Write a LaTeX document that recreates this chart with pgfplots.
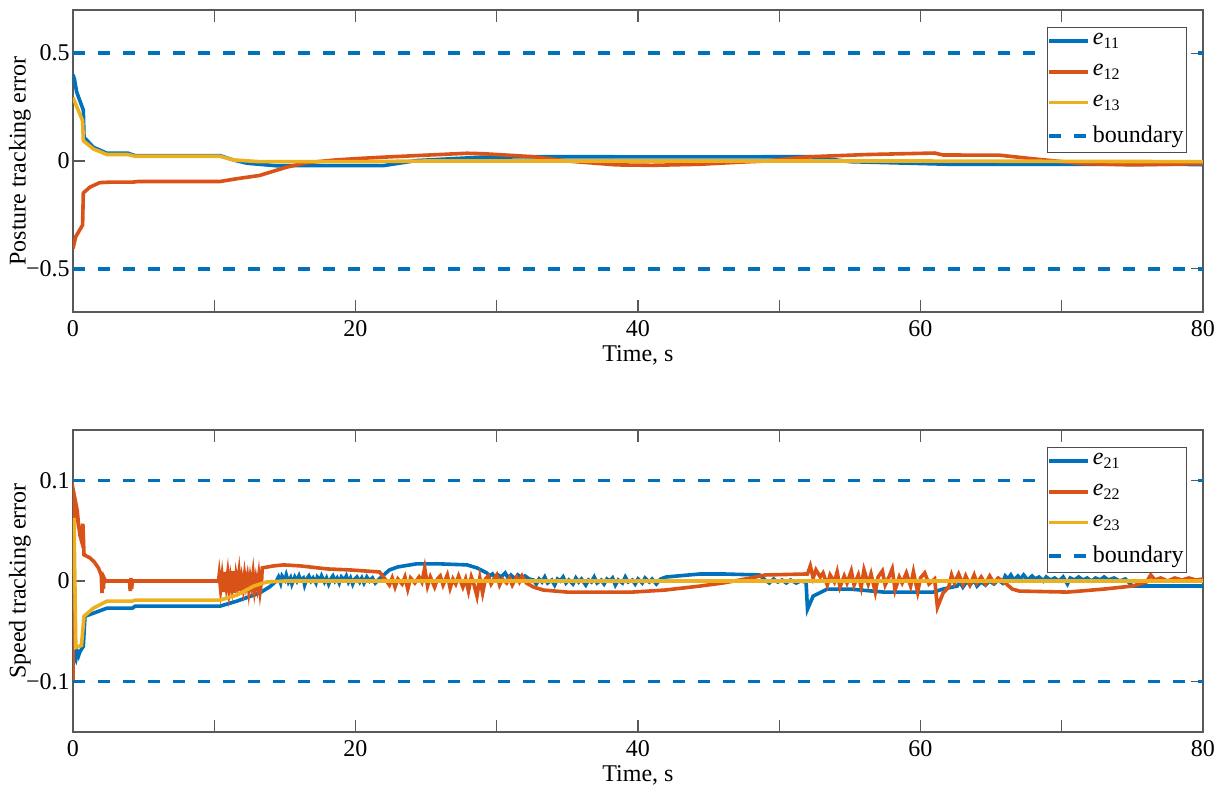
\documentclass[border=0pt,12pt]{standalone}
\usepackage{pgfplots}
\pgfplotsset{compat=1.18}
\usepackage{pgfplotstable}
\usepackage{fontspec}
\setmainfont{Liberation Serif}
\definecolor{mblue}{rgb}{0,0.447,0.741}
\definecolor{morange}{rgb}{0.85,0.325,0.098}
\definecolor{myellow}{rgb}{0.929,0.694,0.125}

% ---------- Posture tracking errors ----------
\pgfplotstableread{
x y
0 0.40
0.1 0.38
0.26 0.32
0.73 0.236
0.78 0.11
1.44 0.064
2.4 0.036
3.9 0.036
4.4 0.025
10.4 0.025
11.35 0.005
12.3 -0.01
14.4 -0.022
16.1 -0.021
22 -0.021
24.3 0.002
29 0.018
33.8 0.02
44.4 0.019
52.2 0.02
55 -0.003
62 -0.015
70.4 -0.015
80 -0.016
}\eA
\pgfplotstableread{
x y
0 -0.405
0.2 -0.35
0.68 -0.297
0.73 -0.148
1.2 -0.121
1.9 -0.1
2.6 -0.098
4.2 -0.098
4.6 -0.095
10.4 -0.095
11.6 -0.082
13.2 -0.067
15.1 -0.029
16.5 -0.008
18.6 0.005
20.3 0.012
22 0.018
27.9 0.036
29 0.034
32.6 0.02
35 0.0
38.5 -0.018
41 -0.02
44.4 -0.015
47 -0.006
49 0
52.2 0.02
56.2 0.03
61 0.037
61.6 0.028
65.6 0.027
68 0.01
71.5 -0.012
75 -0.018
80 -0.012
}\eB
\pgfplotstableread{
x y
0 0.294
0.68 0.187
0.73 0.094
1.44 0.056
2.4 0.03
3.9 0.03
4.4 0.022
10.4 0.022
11.35 0.005
13.2 -0.003
20 -0.003
25 0
60 0
80 -0.003
}\eC

% ---------- Speed tracking errors ----------
\pgfplotstableread{
x y
0 -0.06
0.1 -0.075
0.2 -0.078
0.3 -0.07
0.4 -0.074
0.5 -0.07
0.73 -0.065
0.85 -0.035
1.44 -0.032
2.4 -0.027
4.2 -0.027
4.4 -0.025
10.4 -0.025
11.6 -0.02
13.2 -0.012
13.9 -0.006
14.4 0.0
14.55 0.004
14.7 -0.002
14.8 0.005
15.0 0.001
15.1 0.006
15.25 -0.001
15.4 0.003
15.5 -0.003
15.7 0.004
15.85 0.0
16.0 0.005
16.1 0.001
16.3 0.003
16.4 -0.004
16.55 0.002
16.7 0.005
16.85 0.0
17.0 0.003
17.2 -0.002
17.3 0.004
17.5 0.001
17.6 0.005
17.8 -0.001
17.95 0.003
18.1 -0.003
18.25 0.002
18.4 0.005
18.55 0.0
18.7 0.003
18.85 -0.002
19.0 0.004
19.2 0.001
19.35 0.005
19.5 -0.001
19.65 0.003
19.8 -0.003
19.95 0.002
20.1 0.004
20.3 -0.001
20.45 0.003
20.6 -0.002
20.8 0.004
21.0 0.0
21.2 0.003
21.4 -0.002
21.6 0.001
22.4 0.011
23 0.014
24.3 0.017
26 0.017
27.9 0.016
28.6 0.013
29.3 0.008
29.5 0.005
29.7 0.007
29.9 0.003
30.1 0.006
30.3 0.004
30.6 0.008
30.8 0.003
31.0 0.006
31.3 0.002
31.5 0.006
31.8 0.003
32.0 0.005
32.3 0.002
32.6 0.001
32.8 -0.003
33.0 0.002
33.2 -0.001
33.4 0.004
33.6 -0.002
33.9 0.001
34.1 -0.004
34.3 0.002
34.5 0.0
34.7 0.004
34.9 -0.002
35.1 0.001
35.4 -0.003
35.6 0.003
35.8 -0.001
36.0 0.002
36.3 -0.004
36.5 0.001
36.7 -0.001
36.9 0.004
37.1 -0.002
37.4 0.001
37.6 -0.003
37.8 0.002
38.0 0.0
38.2 0.003
38.4 -0.004
38.6 0.001
38.9 -0.002
39.1 0.004
39.3 -0.001
39.6 0.001
39.8 -0.003
40.0 0.002
40.3 -0.002
40.5 0.003
40.8 -0.001
41.0 0.002
41.3 -0.003
41.6 0.002
42 0.004
44.4 0.007
46 0.007
48.6 0.006
49 0.001
49.3 -0.002
49.6 0.002
49.9 -0.001
50.2 0.001
50.5 -0.002
50.8 0.001
51.2 -0.002
51.5 0.0
51.9 -0.001
52.0 -0.028
52.4 -0.015
53.4 -0.008
55 -0.008
57.4 -0.011
60.9 -0.011
61.6 -0.008
62.6 -0.005
62.8 -0.001
63.0 -0.006
63.3 0.0
63.5 -0.004
63.8 0.001
64.0 -0.005
64.3 -0.001
64.6 -0.004
64.9 0.0
65.2 -0.003
65.5 0.001
65.8 -0.002
66.0 0.005
66.2 0.002
66.4 0.006
66.6 0.001
66.9 0.005
67.1 0.002
67.3 0.006
67.6 0.001
67.9 0.005
68.1 0.002
68.4 0.004
68.7 0.0
68.9 0.004
69.2 0.001
69.5 0.003
69.8 0.0
70.1 0.004
70.4 -0.003
70.6 0.003
70.9 0.001
71.2 0.004
71.5 0.001
71.8 0.003
72.1 0.0
72.4 0.003
72.7 0.001
73.0 0.004
73.3 0.001
73.7 0.003
74.1 0.0
74.5 0.002
75 -0.005
80 -0.005
}\sA
\pgfplotstableread{
x y
0 -0.101
0.05 0.02
0.12 0.083
0.3 0.07
0.4 0.055
0.5 0.045
0.6 0.04
0.7 0.057
0.78 0.026
1.2 0.023
1.5 0.019
1.8 0.013
2.0 0.006
2.05 -0.012
2.1 0.004
2.15 -0.008
2.2 0.003
2.3 0
4.0 0
4.05 -0.01
4.1 0.003
4.15 -0.008
4.2 0
10.3 0
10.35 0.006
10.45 -0.008
10.55 0.004
10.65 -0.011
10.75 0.009
10.85 -0.004
10.95 0.007
11.05 -0.009
11.15 0.003
11.25 -0.006
11.35 0.01
11.45 -0.012
11.55 0.005
11.65 -0.003
11.75 0.008
11.85 -0.01
11.95 0.002
12.05 -0.007
12.15 0.006
12.25 -0.004
12.35 0.004
12.45 -0.009
12.55 0.003
12.65 -0.005
12.75 0.007
12.85 -0.008
12.95 0.002
13.05 -0.006
13.15 0.005
13.25 -0.01
13.35 0.0
13.4 0.013
14.2 0.015
14.9 0.016
16.1 0.015
18 0.012
19.6 0.011
21.7 0.009
22.2 0.0
22.4 -0.004
22.6 0.003
22.8 -0.006
23.0 0.002
23.3 -0.003
23.5 0.004
23.7 -0.008
23.9 0.003
24.2 -0.002
24.5 0.004
24.7 -0.001
24.9 0.013
25.1 -0.005
25.3 0.004
25.6 -0.006
25.8 0.002
26.0 0.005
26.2 -0.004
26.5 0.006
26.7 -0.007
26.9 0.002
27.1 -0.003
27.3 0.005
27.6 -0.006
27.8 0.002
28.0 -0.01
28.2 0.004
28.4 -0.004
28.6 -0.015
28.8 0.003
29.0 -0.012
29.2 0.002
29.4 0.005
29.6 -0.003
29.8 0.002
30.0 0.006
30.2 -0.004
30.4 0.002
30.7 -0.002
30.9 0.003
31.1 -0.004
31.4 0.004
31.6 -0.001
31.8 0.005
32.1 -0.002
32.6 -0.006
33.3 -0.009
35 -0.011
39.6 -0.011
41.9 -0.009
44.4 -0.005
46 -0.002
48 0.003
49 0.006
52 0.007
52.2 0.015
52.4 0.003
52.6 0.011
52.9 0.004
53.1 0.008
53.4 -0.004
53.6 0.006
53.9 -0.001
54.1 0.009
54.3 -0.006
54.6 0.005
54.8 -0.002
55.1 0.01
55.3 -0.004
55.6 0.006
55.8 -0.006
56.0 0.011
56.3 -0.003
56.5 0.007
56.8 -0.011
57.0 0.004
57.3 0.01
57.5 -0.004
57.8 0.005
58.0 0.012
58.2 -0.009
58.5 0.004
58.7 -0.002
59.0 0.008
59.3 -0.005
59.5 0.009
59.8 -0.011
60.0 0.003
60.3 0.008
60.6 -0.003
61.0 0.002
61.2 -0.026
61.6 -0.012
62.0 -0.006
62.2 0.006
62.4 -0.002
62.7 0.007
63.0 -0.003
63.2 0.005
63.5 -0.004
63.8 0.006
64.0 -0.002
64.3 0.004
64.6 -0.003
64.9 0.005
65.2 -0.002
65.5 0.003
66.0 -0.002
66.5 -0.008
67 -0.01
70.4 -0.011
73 -0.008
75 -0.005
76 -0.001
76.3 0.006
76.6 0.001
77 0.003
77.5 0.0
78 0.003
78.5 0.001
79 0.003
79.5 0.001
80 0.002
}\sB
\pgfplotstableread{
x y
0 0.061
0.07 0.061
0.2 -0.066
0.6 -0.064
0.78 -0.035
1.44 -0.027
2.4 -0.02
4.2 -0.02
4.4 -0.019
10.4 -0.019
11.6 -0.014
12.8 -0.005
13.7 -0.001
15 0
80 0
}\sC

\pgfplotsset{
  mystyle/.style={
    scale only axis, width=565pt, height=151pt,
    xmin=0, xmax=80,
    xtick={0,10,...,80}, xticklabels={0,,20,,40,,60,,80},
    yticklabel style={xshift=2.5pt},
    axis line style={draw=black!65, line width=0.6pt},
    major tick style={draw=black!65, line width=0.6pt},
    major tick length=6pt,
    tick align=inside,
    xlabel={Time, s},
    every axis x label/.style={at={([yshift=-21.5pt]axis description cs:0.5,0)}, anchor=center},
    every axis y label/.style={at={([xshift=-26.5pt]axis description cs:0,0.5)}, rotate=90, anchor=center},
    legend cell align=left,
    legend style={at={(1,1)}, anchor=north east, xshift=-8pt, yshift=-8.5pt,
      draw=black!70, fill=white, row sep=5pt, inner xsep=0pt, inner ysep=1.5pt,
      nodes={inner sep=1.5pt}},
    legend image code/.code={\draw[#1] (0pt,0pt) -- (19.5pt,0pt);},
    every axis plot/.append style={line width=1.8pt},
  },
  bnd/.style={mblue, line width=1.8pt, dash pattern=on 6pt off 6.5pt},
}

\begin{document}
\begin{tikzpicture}
\useasboundingbox (-36.5pt,5pt) rectangle (579.5pt,-389.5pt);
\begin{axis}[mystyle, at={(0,0)}, anchor=north west,
  ymin=-0.7, ymax=0.7, ytick={-0.5,0,0.5}, yticklabels={−0.5,0,0.5},
  ylabel={Posture tracking error}]
\addplot[mblue] table {\eA}; \addlegendentry{\textit{e}\textsubscript{11}}
\addplot[morange] table {\eB}; \addlegendentry{\textit{e}\textsubscript{12}}
\addplot[myellow] table {\eC}; \addlegendentry{\textit{e}\textsubscript{13}}
\addplot[bnd] coordinates {(0,0.5) (80,0.5)}; \addlegendentry{boundary}
\addplot[bnd, forget plot] coordinates {(0,-0.5) (80,-0.5)};
\end{axis}
\begin{axis}[mystyle, at={(0,-210pt)}, anchor=north west,
  ymin=-0.15, ymax=0.15, ytick={-0.1,0,0.1}, yticklabels={−0.1,0,0.1},
  ylabel={Speed tracking error}]
\addplot[mblue] table {\sA}; \addlegendentry{\textit{e}\textsubscript{21}}
\addplot[morange] table {\sB}; \addlegendentry{\textit{e}\textsubscript{22}}
\addplot[myellow] table {\sC}; \addlegendentry{\textit{e}\textsubscript{23}}
\addplot[bnd] coordinates {(0,0.1) (80,0.1)}; \addlegendentry{boundary}
\addplot[bnd, forget plot] coordinates {(0,-0.1) (80,-0.1)};
\end{axis}
\end{tikzpicture}
\end{document}
